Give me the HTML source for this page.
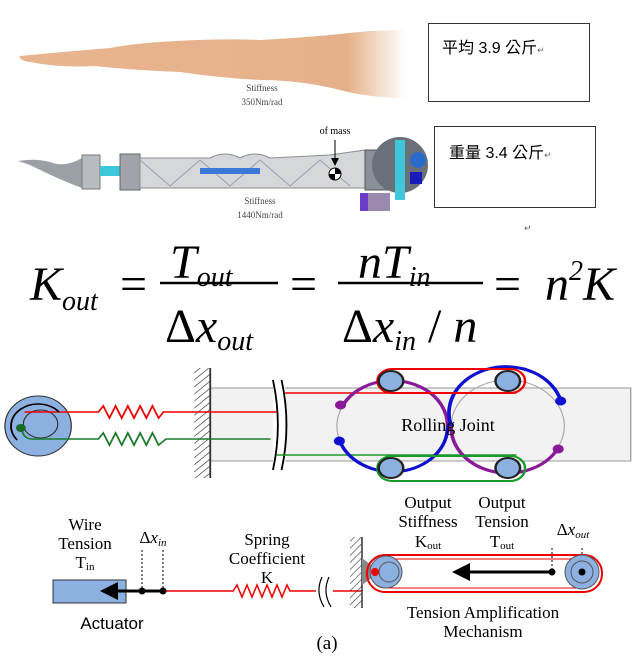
<!DOCTYPE html>
<html><head><meta charset="utf-8"><style>
html,body{margin:0;padding:0;background:#fff;}
svg{display:block;}
.s{font-family:"Liberation Serif",serif;}
</style></head><body>
<svg width="635" height="658" viewBox="0 0 635 658" xmlns="http://www.w3.org/2000/svg">
<defs>
<linearGradient id="arm" x1="0" y1="0" x2="1" y2="0">
<stop offset="0" stop-color="#e8b590"/><stop offset="0.85" stop-color="#e6b08a"/><stop offset="1" stop-color="#fff"/>
</linearGradient>
<pattern id="hatch" width="5" height="5" patternUnits="userSpaceOnUse" patternTransform="rotate(45)">
<line x1="0" y1="0" x2="0" y2="5" stroke="#333" stroke-width="1.2"/>
</pattern>
<marker id="ah" markerWidth="6" markerHeight="6" refX="4" refY="3" orient="auto"><path d="M0,0 L6,3 L0,6 Z" fill="#000"/></marker>
</defs>

<!-- arm -->
<path d="M20,56 Q60,52 110,48 Q130,44 160,42 Q220,38 260,40 Q300,38 340,34 Q370,30 405,30 L405,98 Q370,98 340,90 Q300,80 260,80 Q220,78 180,72 Q130,70 95,66 Q60,68 30,62 Q18,60 20,56 Z" fill="url(#arm)"/>
<text x="262" y="91" class="s" font-size="9" text-anchor="middle" fill="#444">Stiffness</text>
<text x="262" y="105" class="s" font-size="9" text-anchor="middle" fill="#444">350Nm/rad</text>
<rect x="428.5" y="23.5" width="161" height="78" fill="#fff" stroke="#333"/>
<text x="442" y="53" font-family="'Liberation Sans','Noto Sans CJK TC',sans-serif" font-size="16">平均 3.9 公斤<tspan font-size="9" fill="#666">↵</tspan></text>

<!-- robot arm -->
<path d="M18,161 Q35,158 50,162 Q65,168 82,158 L82,188 Q60,180 30,165 Z" fill="#9aa0a6"/>
<rect x="82" y="155" width="18" height="34" fill="#b8bcc2" stroke="#777"/>
<rect x="100" y="166" width="20" height="10" fill="#3cc8d8"/>
<rect x="120" y="154" width="20" height="36" fill="#a0a4aa" stroke="#666"/>
<path d="M140,158 L210,158 Q225,150 240,158 Q255,150 270,158 L330,155 L365,150 L365,188 L330,188 L140,188 Z" fill="#d5d7da" stroke="#8a8e94"/>
<path d="M140,160 L170,186 L200,160 L230,186 L260,160 L290,186 L320,160 L350,186" fill="none" stroke="#9aa0a6"/>
<rect x="200" y="168" width="60" height="6" fill="#3c78d8"/>
<circle cx="335" cy="174" r="6" fill="#fff" stroke="#000"/>
<path d="M335,168 A6,6 0 0 1 341,174 L335,174 Z M335,180 A6,6 0 0 1 329,174 L335,174 Z" fill="#000"/>
<line x1="335" y1="140" x2="335" y2="162" stroke="#000"/>
<path d="M331,158 L335,166 L339,158 Z" fill="#000"/>
<text x="335" y="134" class="s" font-size="10" text-anchor="middle">of mass</text>
<rect x="365" y="150" width="30" height="40" fill="#8a9098" stroke="#555"/>
<circle cx="400" cy="165" r="28" fill="#6a7078"/>
<rect x="395" y="140" width="10" height="60" fill="#3cc8d8"/>
<rect x="360" y="193" width="30" height="18" fill="#9a8ab0"/>
<rect x="360" y="193" width="8" height="18" fill="#6a3cc8"/>
<circle cx="418" cy="160" r="8" fill="#2a6ac8"/>
<rect x="410" y="172" width="12" height="12" fill="#1a1ab8"/>
<text x="260" y="204" class="s" font-size="9" text-anchor="middle" fill="#444">Stiffness</text>
<text x="260" y="218" class="s" font-size="9" text-anchor="middle" fill="#444">1440Nm/rad</text>
<rect x="434.5" y="126.5" width="161" height="81" fill="#fff" stroke="#333"/>
<text x="449" y="158" font-family="'Liberation Sans','Noto Sans CJK TC',sans-serif" font-size="16">重量 3.4 公斤<tspan font-size="9" fill="#666">↵</tspan></text>
<text x="524" y="231" font-size="9" fill="#666" font-family="'Liberation Sans',sans-serif">↵</text>

<!-- equation -->
<g class="s" font-style="italic" font-size="48">
<text x="30" y="300">K<tspan font-size="28" dy="10">out</tspan></text>
<text x="120" y="300" font-style="normal">=</text>
<text x="170" y="278">T<tspan font-size="28" dy="8">out</tspan></text>
<line x1="160" y1="283" x2="278" y2="283" stroke="#000" stroke-width="2.5"/>
<text x="165" y="342" font-style="normal">Δ<tspan font-style="italic">x</tspan><tspan font-size="28" font-style="italic" dy="8">out</tspan></text>
<text x="290" y="300" font-style="normal">=</text>
<text x="358" y="278">nT<tspan font-size="28" dy="8">in</tspan></text>
<line x1="338" y1="283" x2="483" y2="283" stroke="#000" stroke-width="2.5"/>
<text x="342" y="342" font-style="normal">Δ<tspan font-style="italic">x</tspan><tspan font-size="28" font-style="italic" dy="8">in</tspan><tspan dy="-8" font-style="normal"> / </tspan><tspan font-style="italic">n</tspan></text>
<text x="494" y="300" font-style="normal">=</text>
<text x="545" y="300">n<tspan font-size="28" dy="-20">2</tspan><tspan dy="20">K</tspan></text>
</g>

<g transform="scale(1.2295,1)">
<!-- diagram 1 -->
<rect x="171" y="388" width="342" height="73" fill="#f2f2f2" stroke="#999"/>
<rect x="158" y="368" width="13" height="110" fill="url(#hatch)"/>
<line x1="171" y1="368" x2="171" y2="478" stroke="#333" stroke-width="1.5"/>
<rect x="222" y="380" width="10" height="90" fill="#fff"/>
<path d="M222,380 Q230,425 222,470 M229,380 Q237,425 229,470" fill="none" stroke="#000" stroke-width="1.5"/>
<ellipse cx="31" cy="426" rx="27" ry="30" fill="#8cb0e0" stroke="#333"/>
<circle cx="33" cy="424" r="14" fill="#8cb0e0" stroke="#333"/>
<path d="M20,412 L80,412 L84,406 L89,418 L94,406 L99,418 L104,406 L109,418 L114,406 L119,418 L124,406 L129,418 L133,412 L225,412" fill="none" stroke="#e00" stroke-width="1.5"/>
<path d="M18,431 Q20,440 28,439 L80,439 L84,433 L89,445 L94,433 L99,445 L104,433 L109,445 L114,433 L119,445 L124,433 L129,445 L135,439 L220,439" fill="none" stroke="#1a7a2a" stroke-width="1.5"/>
<circle cx="17" cy="428" r="4" fill="#1a6a2a"/>
<path d="M14,440 A18,18 0 0 1 48,412" fill="none" stroke="#000" stroke-width="1.5"/>
<path d="M232,393 L420,393" stroke="#e00" stroke-width="1.5"/>
<path d="M225,455 L420,455" stroke="#1a9a2a" stroke-width="1.5"/>
<circle cx="319" cy="426" r="45" fill="none" stroke="#aaa"/>
<circle cx="413" cy="426" r="46" fill="none" stroke="#aaa"/>
<path d="M279,405 A45,45 0 0 1 359,405 A45,45 0 0 1 364,426" fill="none" stroke="#8a1a9a" stroke-width="3"/>
<path d="M276,440 A45,45 0 0 0 364,426" fill="none" stroke="#1010d0" stroke-width="3"/>
<path d="M367,426 A46,46 0 0 1 456,400" fill="none" stroke="#1010d0" stroke-width="3"/>
<path d="M367,426 A46,46 0 0 0 454,448" fill="none" stroke="#8a1a9a" stroke-width="3"/>
<circle cx="277" cy="405" r="4.5" fill="#8a1a9a"/><circle cx="276" cy="441" r="4.5" fill="#1010d0"/>
<circle cx="456" cy="401" r="4.5" fill="#1010d0"/><circle cx="454" cy="449" r="4.5" fill="#8a1a9a"/>
<rect x="307" y="369" width="120" height="24" rx="12" fill="none" stroke="#e00" stroke-width="2"/>
<rect x="307" y="456" width="120" height="25" rx="12" fill="none" stroke="#1a9a2a" stroke-width="2"/>
<g fill="#8cb0e0" stroke="#222" stroke-width="2">
<circle cx="318" cy="381" r="10"/><circle cx="413" cy="381" r="10"/>
<circle cx="318" cy="468" r="10"/><circle cx="413" cy="468" r="10"/></g>
</g>
<text x="448" y="431" class="s" font-size="18" text-anchor="middle">Rolling Joint</text>

<!-- diagram 2 (absolute) -->
<g class="s" font-size="17" text-anchor="middle">
<text x="85" y="530">Wire</text><text x="85" y="549">Tension</text>
<text x="85" y="568">T<tspan font-size="11" dy="2">in</tspan></text>
<text x="153" y="543">Δ<tspan font-style="italic">x</tspan><tspan font-size="11" font-style="italic" dy="3">in</tspan></text>
<text x="267" y="545">Spring</text><text x="267" y="564">Coefficient</text><text x="267" y="583">K</text>
<text x="428" y="508">Output</text><text x="428" y="527">Stiffness</text>
<text x="428" y="547">K<tspan font-size="11" dy="2">out</tspan></text>
<text x="502" y="508">Output</text><text x="502" y="527">Tension</text>
<text x="502" y="547">T<tspan font-size="11" dy="2">out</tspan></text>
<text x="573" y="535">Δ<tspan font-style="italic">x</tspan><tspan font-size="11" font-style="italic" dy="3">out</tspan></text>
<text x="483" y="618">Tension Amplification</text><text x="483" y="637">Mechanism</text>
<text x="327" y="649" font-size="19">(a)</text>
</g>
<text x="112" y="629" font-family="'Liberation Sans',sans-serif" font-size="17" text-anchor="middle">Actuator</text>
<rect x="53" y="580" width="73" height="23" fill="#8cb0e0" stroke="#333"/>
<g stroke="#000" stroke-dasharray="2,2" stroke-width="1">
<line x1="142" y1="550" x2="142" y2="591"/><line x1="163" y1="550" x2="163" y2="591"/>
<line x1="552" y1="548" x2="552" y2="572"/><line x1="582" y1="548" x2="582" y2="572"/></g>
<path d="M163,591 L233,591 L237,585 L242,597 L247,585 L252,597 L257,585 L262,597 L267,585 L272,597 L277,585 L282,597 L287,585 L290,591 L362,591" fill="none" stroke="#e00" stroke-width="1.5"/>
<rect x="316" y="577" width="17" height="30" fill="#fff"/>
<path d="M322,577 Q315,592 324,607 M329,577 Q322,592 331,607" fill="none" stroke="#000" stroke-width="1.2"/>
<line x1="163" y1="591" x2="106" y2="591" stroke="#000" stroke-width="3" marker-end="url(#ah)"/>
<circle cx="142" cy="591" r="3.5"/><circle cx="163" cy="591" r="3.5"/>
<rect x="350" y="537" width="12" height="71" fill="url(#hatch)"/>
<line x1="362" y1="537" x2="362" y2="608" stroke="#333" stroke-width="1.5"/>
<path d="M362,558 L380,572 L362,585 Z" fill="#888"/>
<rect x="367" y="555" width="235" height="37" rx="18" fill="none" stroke="#e00" stroke-width="2"/>
<rect x="371" y="559" width="227" height="29" rx="14" fill="none" stroke="#e00" stroke-width="1"/>
<circle cx="386" cy="572" r="16" fill="#8cb0e0" stroke="#555"/><circle cx="389" cy="572" r="10" fill="none" stroke="#555"/>
<circle cx="375" cy="572" r="4" fill="#e00"/>
<circle cx="582" cy="572" r="17" fill="#8cb0e0" stroke="#555"/><circle cx="582" cy="572" r="11" fill="none" stroke="#555"/>
<circle cx="582" cy="572" r="3.5"/>
<line x1="552" y1="572" x2="458" y2="572" stroke="#000" stroke-width="3" marker-end="url(#ah)"/>
<circle cx="552" cy="572" r="3.5"/>
</svg>
</body></html>
